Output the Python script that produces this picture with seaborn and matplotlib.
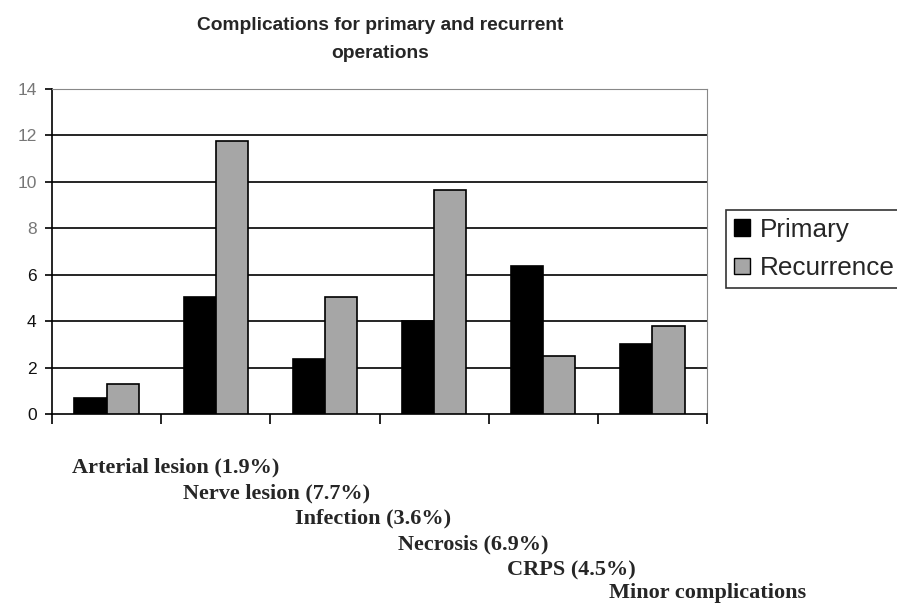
import seaborn as sns
import matplotlib.pyplot as plt
import pandas as pd
import numpy as np

# Data
categories = ['Arterial lesion (1.9%)', 'Nerve lesion (7.7%)', 'Infection (3.6%)',
              'Necrosis (6.9%)', 'CRPS (4.5%)', 'Minor complications']
primary = [0.7, 5.05, 2.37, 4.0, 6.38, 3.0]
recurrence = [1.3, 11.75, 5.05, 9.65, 2.5, 3.8]
series = ['Primary', 'Recurrence']
yticks = [0, 2, 4, 6, 8, 10, 12, 14]

df = pd.DataFrame({
    'Category': categories * 2,
    'Value': primary + recurrence,
    'Type': [series[0]] * len(categories) + [series[1]] * len(categories),
})

sns.set_style('white')
plt.rcParams['font.family'] = ['Liberation Sans', 'DejaVu Sans']

fig = plt.figure(figsize=(8.97, 6.09), dpi=100)
W, H = 897, 609
ax = fig.add_axes([52 / W, 1 - 414 / H, 655 / W, 325 / H])

sns.barplot(data=df, x='Category', y='Value', hue='Type', order=categories,
            palette=['#000000', '#a6a6a6'], edgecolor='black', linewidth=1.2,
            width=0.59, saturation=1, ax=ax, zorder=3)

ax.set_xlim(-0.5, len(categories) - 0.5)
ax.set_ylim(0, 14)
ax.set_yticks(yticks)
ax.set_yticklabels([str(t) for t in yticks], fontsize=12.5)
for lab, t in zip(ax.get_yticklabels(), yticks):
    lab.set_color('#777777' if t >= 8 else '#111111')
ax.set_xticks(np.arange(-0.5, len(categories), 1.0))
ax.set_xticklabels([])
ax.tick_params(axis='x', direction='out', length=7, width=1.2, color='black', bottom=True)
ax.tick_params(axis='y', direction='out', length=5, width=1.2, color='black', left=True, pad=6)
ax.set_xlabel('')
ax.set_ylabel('')

for t in yticks[1:-1]:
    ax.axhline(t, color='black', linewidth=1.2, zorder=1)

ax.spines['left'].set_color('black')
ax.spines['left'].set_linewidth(1.2)
ax.spines['bottom'].set_color('black')
ax.spines['bottom'].set_linewidth(1.2)
ax.spines['top'].set_color('#888888')
ax.spines['right'].set_color('#888888')

# title (two lines)
fig.text(380 / W, 1 - 25 / H, 'Complications for primary and recurrent',
         ha='center', va='center', fontsize=13.8, fontweight='bold')
fig.text(380 / W, 1 - 53 / H, 'operations',
         ha='center', va='center', fontsize=13.8, fontweight='bold')

# staggered category labels
label_x = [72, 183, 295, 398, 507, 609]
label_y = [467, 493, 518, 544, 570, 593]
for name, lx, ly in zip(categories, label_x, label_y):
    fig.text(lx / W, 1 - ly / H, name, ha='left', va='center', fontsize=16,
             fontweight='bold', family=['Liberation Serif', 'DejaVu Serif'])

ax.legend_.remove()
handles = [plt.Rectangle((0, 0), 1, 1, facecolor=c, edgecolor='black', linewidth=1)
           for c in ['#000000', '#a6a6a6']]
leg = fig.legend(handles, series, loc='upper left', bbox_to_anchor=(726 / W, 1 - 210 / H),
                 fontsize=18.8, frameon=True, fancybox=False, edgecolor='black',
                 handlelength=0.6, handleheight=0.6, handletextpad=0.4,
                 labelspacing=0.55, borderpad=0.3, borderaxespad=0)
leg.get_frame().set_linewidth(1.2)

fig.savefig('out.png', dpi=100)
